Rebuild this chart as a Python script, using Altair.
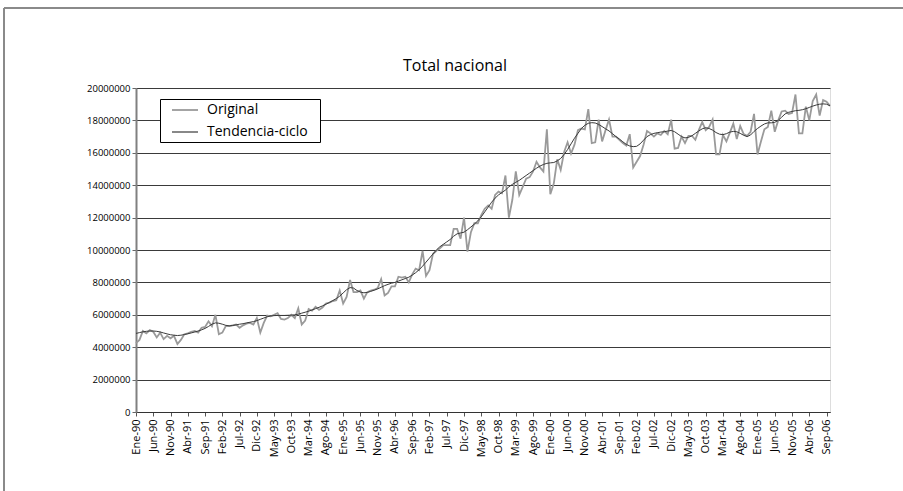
import altair as alt
import pandas as pd

# Month labels, Jan-1990 .. Oct-2006
meses = ["Ene", "Feb", "Mar", "Abr", "May", "Jun", "Jul", "Ago", "Sep", "Oct", "Nov", "Dic"]
periodos = [f"{m}-{str(a)[2:]}" for a in range(1990, 2007) for m in meses][:202]

# Original series, millions
original_mill = [
    4.25, 4.45, 5.00, 4.85, 5.05, 4.95, 4.60, 4.90, 4.50, 4.70, 4.55, 4.70,
    4.20, 4.45, 4.80, 4.85, 4.95, 5.00, 4.90, 5.20, 5.25, 5.60, 5.30, 6.00,
    4.80, 4.90, 5.30, 5.30, 5.35, 5.40, 5.20, 5.35, 5.45, 5.50, 5.40, 5.80,
    4.90, 5.50, 5.95, 5.90, 6.00, 6.10, 5.75, 5.70, 5.80, 6.00, 5.80, 6.40,
    5.40, 5.65, 6.35, 6.25, 6.50, 6.30, 6.45, 6.70, 6.75, 6.85, 6.90, 7.50,
    6.70, 7.10, 8.15, 7.40, 7.40, 7.50, 7.00, 7.40, 7.50, 7.55, 7.65, 8.20,
    7.20, 7.35, 7.75, 7.75, 8.35, 8.30, 8.35, 8.00, 8.50, 8.85, 8.75, 9.95,
    8.40, 8.75, 9.75, 9.95, 10.10, 10.30, 10.30, 10.30, 11.30, 11.30, 10.70, 12.00,
    9.90, 11.10, 11.65, 11.65, 12.15, 12.55, 12.75, 12.55, 13.40, 13.60, 13.50, 14.60,
    12.00, 13.10, 14.85, 13.40, 13.90, 14.40, 14.50, 14.85, 15.45, 15.10, 14.85, 17.45,
    13.45, 14.10, 15.60, 14.95, 16.05, 16.65, 15.95, 16.50, 17.40, 17.50, 17.45, 18.70,
    16.60, 16.65, 18.05, 16.70, 17.40, 18.05, 17.00, 17.00, 16.80, 16.60, 16.45, 17.15,
    15.10, 15.45, 15.80, 16.50, 17.35, 17.20, 17.00, 17.20, 17.10, 17.35, 17.15, 18.05,
    16.25, 16.30, 17.00, 16.60, 17.05, 17.05, 16.80, 17.40, 17.90, 17.40, 17.60, 18.05,
    15.90, 15.90, 17.10, 16.70, 17.25, 17.80, 16.85, 17.65, 17.15, 17.05, 17.30, 18.40,
    15.90, 16.70, 17.45, 17.60, 18.60, 17.30, 18.00, 18.55, 18.60, 18.40, 18.45, 19.60,
    17.20, 17.20, 18.85, 18.00, 19.20, 19.60, 18.30, 19.25, 19.15, 18.90,
]

# Trend-cycle series, millions
tendencia_mill = [
    4.85, 4.90, 4.95, 4.98, 5.00, 5.00, 4.98, 4.94, 4.88, 4.82, 4.77, 4.74,
    4.72, 4.74, 4.78, 4.83, 4.88, 4.94, 5.00, 5.07, 5.16, 5.28, 5.42, 5.50,
    5.48, 5.42, 5.35, 5.32, 5.34, 5.38, 5.42, 5.45, 5.50, 5.54, 5.58, 5.64,
    5.72, 5.80, 5.88, 5.93, 5.95, 5.96, 5.96, 5.96, 5.97, 5.98, 6.00, 6.04,
    6.10, 6.16, 6.22, 6.30, 6.38, 6.46, 6.55, 6.65, 6.76, 6.88, 7.00, 7.15,
    7.35, 7.55, 7.68, 7.65, 7.50, 7.40, 7.36, 7.38, 7.45, 7.52, 7.60, 7.70,
    7.80, 7.88, 7.95, 8.00, 8.08, 8.16, 8.24, 8.32, 8.45, 8.60, 8.78, 9.00,
    9.25, 9.50, 9.75, 10.00, 10.20, 10.35, 10.50, 10.65, 10.85, 11.00, 11.05, 11.10,
    11.25, 11.42, 11.60, 11.80, 12.05, 12.35, 12.65, 12.95, 13.20, 13.40, 13.55, 13.70,
    13.90, 14.05, 14.18, 14.30, 14.45, 14.60, 14.75, 14.90, 15.05, 15.18, 15.28, 15.35,
    15.38, 15.40, 15.50, 15.65, 15.90, 16.20, 16.55, 16.90, 17.20, 17.50, 17.70, 17.82,
    17.86, 17.84, 17.75, 17.62, 17.48, 17.35, 17.18, 17.00, 16.85, 16.68, 16.52, 16.42,
    16.38, 16.40, 16.55, 16.78, 17.00, 17.12, 17.20, 17.24, 17.28, 17.30, 17.34, 17.38,
    17.30, 17.15, 17.00, 16.92, 16.95, 17.05, 17.20, 17.35, 17.48, 17.55, 17.50, 17.40,
    17.25, 17.15, 17.12, 17.18, 17.28, 17.32, 17.30, 17.20, 17.08, 17.00, 17.10, 17.32,
    17.50, 17.65, 17.78, 17.85, 17.85, 17.88, 18.00, 18.20, 18.40, 18.50, 18.55, 18.60,
    18.62, 18.66, 18.72, 18.80, 18.88, 18.95, 19.00, 19.02, 19.00, 18.90,
]

series = ["Original", "Tendencia-ciclo"]
colores = ["#9a9a9a", "#3a3a3a"]
grosores = [1.8, 1.0]
titulo = "Total nacional"

rows = []
for s, vals in zip(series, [original_mill, tendencia_mill]):
    for p, v in zip(periodos, vals):
        rows.append({"periodo": p, "serie": s, "valor": round(v * 1_000_000)})
df = pd.DataFrame(rows)
uno = pd.DataFrame({"k": [0]})  # single row for decorations

etiquetas_x = periodos[::5]
FONT = "Open Sans"

lineas = alt.Chart(df).mark_line().encode(
    x=alt.X(
        "periodo:O",
        sort=periodos,
        scale=alt.Scale(type="point", padding=0),
        axis=alt.Axis(
            title=None, values=etiquetas_x, labelAngle=-90, labelFontSize=11,
            labelFont=FONT, labelColor="black", labelPadding=3, tickSize=4,
            tickColor="#555", domainColor="#333", domainWidth=1, grid=False,
        ),
    ),
    y=alt.Y(
        "valor:Q",
        scale=alt.Scale(domain=[0, 20000000], nice=False),
        axis=alt.Axis(
            title=None, values=list(range(0, 20000001, 2000000)), format="d",
            labelFontSize=9.5, labelFont=FONT, labelColor="black", labelPadding=2,
            tickSize=4, tickColor="#666", domainColor="#808080", domainWidth=2,
            grid=True, gridColor="#3a3a3a", gridWidth=1,
        ),
    ),
    color=alt.Color("serie:N", scale=alt.Scale(domain=series, range=colores), legend=None),
    strokeWidth=alt.StrokeWidth(
        "serie:N", scale=alt.Scale(domain=series, range=grosores), legend=None
    ),
)

# Outer frame of the chart area (top and left edges)
marco_sup = alt.Chart(uno).mark_rule(color="#8a8a8a", strokeWidth=2).encode(
    x=alt.value(-132), x2=alt.value(767), y=alt.value(-80)
)
marco_izq = alt.Chart(uno).mark_rule(color="#8a8a8a", strokeWidth=2).encode(
    x=alt.value(-132), y=alt.value(-80), y2=alt.value(403)
)

# Chart title
texto_titulo = alt.Chart(uno).mark_text(
    font=FONT, fontSize=16, color="black", align="center", baseline="alphabetic"
).encode(x=alt.value(319), y=alt.value(-17), text=alt.value(titulo))

# Legend box with its two entries
caja = alt.Chart(uno).mark_rect(fill="white", stroke="black", strokeWidth=1).encode(
    x=alt.value(24.5), x2=alt.value(184.5), y=alt.value(11.5), y2=alt.value(54.5)
)
leyenda = [caja]
for s, c, w, yy in zip(series, colores, grosores, [22, 44]):
    leyenda.append(
        alt.Chart(uno).mark_rule(color=c, strokeWidth=max(w, 1.2)).encode(
            x=alt.value(36), x2=alt.value(62), y=alt.value(yy)
        )
    )
    leyenda.append(
        alt.Chart(uno).mark_text(
            font=FONT, fontSize=14, color="black", align="left", baseline="middle"
        ).encode(x=alt.value(71), y=alt.value(yy), text=alt.value(s))
    )

chart = alt.layer(lineas, marco_sup, marco_izq, texto_titulo, *leyenda).properties(
    width=694,
    height=324,
    autosize=alt.AutoSizeParams(type="none"),
    padding={"left": 136, "top": 88, "right": 73, "bottom": 79},
).configure_view(stroke="#808080", strokeWidth=1.5).configure(background="white")

chart.save("out.html", embed_options={"renderer": "svg", "actions": False})
